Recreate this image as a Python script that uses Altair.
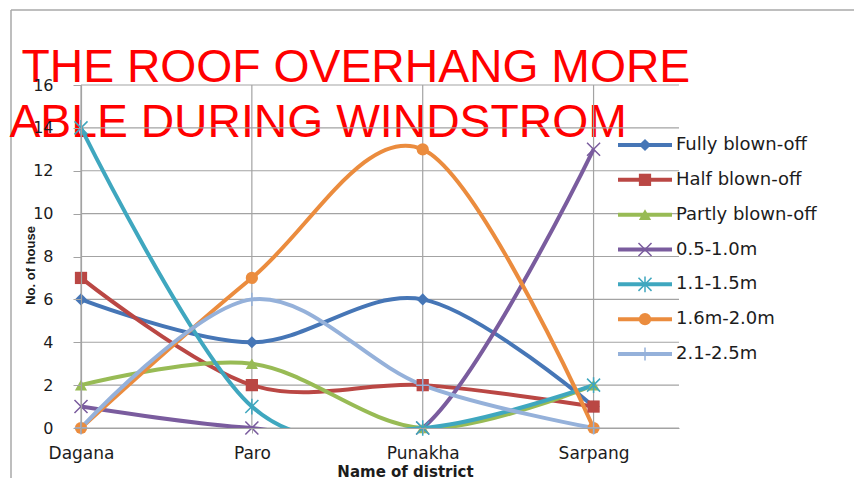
import json
import altair as alt
import pandas as pd

# ---------------- data ----------------
categories = ["Dagana", "Paro", "Punakha", "Sarpang"]
series_names = ["Fully blown-off", "Half blown-off", "Partly blown-off",
                "0.5-1.0m", "1.1-1.5m", "1.6m-2.0m", "2.1-2.5m"]
fully_blown = [6, 4, 6, 1]
half_blown = [7, 2, 2, 1]
partly_blown = [2, 3, 0, 2]
m_05_10 = [1, 0, 0, 13]
m_11_15 = [14, 1, 0, 2]
m_16_20 = [0, 7, 13, 0]
m_21_25 = [0, 6, 2, 0]
y_ticks = [0, 2, 4, 6, 8, 10, 12, 14, 16]
series_colors = ["#4676B6", "#BA4744", "#98BB55", "#7A5C9E", "#3FA7BF", "#EB8C3E", "#95B1DA"]
series_shapes = ["diamond", "square", "triangle-up",
                 "M-1,-1L1,1M-1,1L1,-1",
                 "M-1,-1L1,1M-1,1L1,-1M0,-1.2L0,1.2",
                 "circle",
                 "M0,-1L0,1M-1,0L1,0"]
stroked_series = ["0.5-1.0m", "1.1-1.5m", "2.1-2.5m"]
overlay_text = ["R THE ROOF OVERHANG MORE", "RABLE DURING WINDSTROM"]
x_title = "Name of district"
y_title = "No. of house"

all_values = [fully_blown, half_blown, partly_blown, m_05_10, m_11_15, m_16_20, m_21_25]
rows = []
for name, vals in zip(series_names, all_values):
    for i, v in enumerate(vals):
        rows.append({"series": name, "idx": i, "district": categories[i], "value": v,
                     "stroked": name in stroked_series})
df = pd.DataFrame(rows)
legend_df = pd.DataFrame({"series": series_names,
                          "stroked": [s in stroked_series for s in series_names]})

GRID = "#A3A3A3"
TXT = "#1c1c1c"
FONT = "DejaVu Sans"

xscale = alt.Scale(domain=[0, 3.5], nice=False, zero=False)
yscale = alt.Scale(domain=[0, 16], nice=False)
cscale = alt.Scale(domain=series_names, range=series_colors)
sscale = alt.Scale(domain=series_names, range=series_shapes)
lscale = alt.Scale(type="point", domain=series_names, range=[60, 269], padding=0)

label_expr = "%s[datum.value]" % json.dumps(categories)

xaxis = alt.Axis(values=[0, 1, 2, 3], labelExpr=label_expr, grid=False,
                 domainColor=GRID, domainWidth=1.2, tickColor=GRID, tickSize=5,
                 labelFont=FONT, labelFontSize=17, labelColor=TXT, labelPadding=12,
                 labelFlush=False, labelOverlap=False,
                 title=x_title, titleFont=FONT, titleFontSize=15, titleFontWeight="bold",
                 titleColor=TXT, titleX=324, titleY=48, titleAlign="center",
                 titleBaseline="alphabetic", zindex=1)
yaxis = alt.Axis(values=y_ticks, grid=False, domainColor=GRID, domainWidth=1.2,
                 tickColor=GRID, tickSize=8, labelFont=FONT, labelFontSize=16,
                 labelColor=TXT, labelPadding=20,
                 title=y_title, titleFont="Liberation Sans Narrow, Liberation Sans",
                 titleFontSize=13, titleFontWeight="bold", titleColor=TXT,
                 titleX=-51, titleY=180, titleAngle=270, titleAlign="center",
                 titleBaseline="middle", zindex=1)

one = alt.Data(values=[{}])

frame_top = alt.Chart(one).mark_rule(color="#A8A8A8", strokeWidth=1.5).encode(
    x=alt.value(-70), x2=alt.value(800), y=alt.value(-75))
frame_left = alt.Chart(one).mark_rule(color="#A8A8A8", strokeWidth=1.5).encode(
    x=alt.value(-70), y=alt.value(-75), y2=alt.value(420))

red_text = alt.Chart(one).mark_text(
    align="left", baseline="alphabetic", font="Liberation Sans, Arial",
    fontSize=46.3, color="#FF0000", lineBreak="\n", lineHeight=55
).encode(x=alt.value(-105), y=alt.value(-3), text=alt.value("\n".join(overlay_text)))

hgrid = alt.Chart(pd.DataFrame({"v": y_ticks})).mark_rule(color=GRID, strokeWidth=1.2).encode(
    y=alt.Y("v:Q", scale=yscale, axis=None))
vgrid = alt.Chart(pd.DataFrame({"idx": list(range(len(categories)))})).mark_rule(
    color=GRID, strokeWidth=1.2).encode(x=alt.X("idx:Q", scale=xscale, axis=xaxis))

base = alt.Chart(df)
X = alt.X("idx:Q", scale=xscale, axis=xaxis)
lines = base.mark_line(interpolate="cardinal", strokeWidth=4, clip=True).encode(
    x=X,
    y=alt.Y("value:Q", scale=yscale, axis=yaxis),
    color=alt.Color("series:N", scale=cscale, legend=None),
    order=alt.Order("idx:Q"))
pts_filled = base.transform_filter("!datum.stroked").mark_point(
    filled=True, size=150, opacity=1).encode(
    x=X,
    y=alt.Y("value:Q", scale=yscale, axis=None),
    color=alt.Color("series:N", scale=cscale, legend=None),
    shape=alt.Shape("series:N", scale=sscale, legend=None))
pts_stroked = base.transform_filter("datum.stroked").mark_point(
    filled=False, size=170, strokeWidth=1.5, opacity=1).encode(
    x=X,
    y=alt.Y("value:Q", scale=yscale, axis=None),
    color=alt.Color("series:N", scale=cscale, legend=None),
    shape=alt.Shape("series:N", scale=sscale, legend=None))

lbase = alt.Chart(legend_df)
leg_lines = lbase.mark_rule(strokeWidth=4).encode(
    x=alt.value(537), x2=alt.value(591),
    y=alt.Y("series:N", scale=lscale, axis=None),
    color=alt.Color("series:N", scale=cscale, legend=None))
leg_filled = lbase.transform_filter("!datum.stroked").mark_point(
    filled=True, size=150, opacity=1).encode(
    x=alt.value(564), y=alt.Y("series:N", scale=lscale, axis=None),
    color=alt.Color("series:N", scale=cscale, legend=None),
    shape=alt.Shape("series:N", scale=sscale, legend=None))
leg_stroked = lbase.transform_filter("datum.stroked").mark_point(
    filled=False, size=170, strokeWidth=1.5, opacity=1).encode(
    x=alt.value(564), y=alt.Y("series:N", scale=lscale, axis=None),
    color=alt.Color("series:N", scale=cscale, legend=None),
    shape=alt.Shape("series:N", scale=sscale, legend=None))
leg_text = lbase.mark_text(align="left", baseline="middle", font=FONT, fontSize=18,
                           color=TXT).encode(
    x=alt.value(595), y=alt.Y("series:N", scale=lscale, axis=None), text="series:N")

chart = alt.layer(
    frame_top, frame_left, red_text, hgrid, vgrid, lines, pts_filled, pts_stroked,
    leg_lines, leg_filled, leg_stroked, leg_text
).resolve_scale(y="independent").properties(
    width=598, height=343,
    autosize=alt.AutoSizeParams(type="none"),
    padding={"left": 73, "top": 77, "right": 175, "bottom": 50},
    background="white"
).configure_view(stroke=None)

chart.save("out.html", embed_options={"renderer": "svg", "actions": False})
